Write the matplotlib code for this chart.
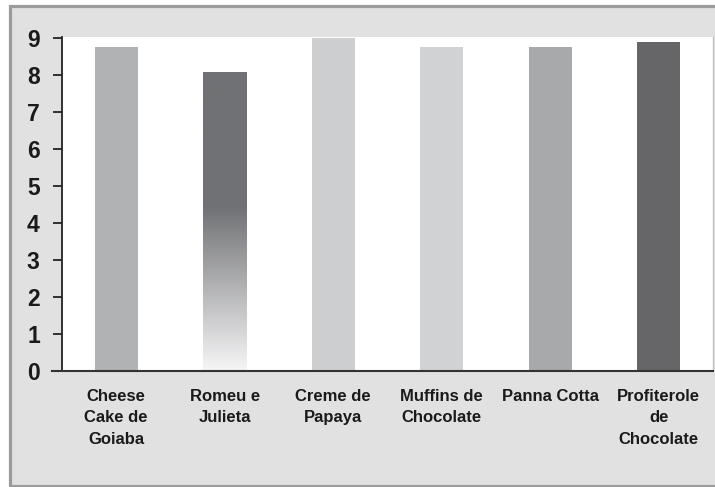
"""
Dessert ratings bar chart (grey textured frame, one gradient bar).
"""

import numpy as np
import matplotlib.pyplot as plt
from matplotlib.colors import LinearSegmentedColormap
from matplotlib.patches import Rectangle

# Data
desserts = [
    "Cheese\nCake de\nGoiaba",
    "Romeu e\nJulieta",
    "Creme de\nPapaya",
    "Muffins de\nChocolate",
    "Panna Cotta",
    "Profiterole\nde\nChocolate",
]
scores = [8.76, 8.1, 9.0, 8.76, 8.76, 8.9]
bar_colors = ["#b1b2b4", None, "#cdcecf", "#d1d2d4", "#a8a9ab", "#666668"]
gradient_idx = 1  # Romeu e Julieta is drawn with a vertical fade
yticks = list(range(0, 10))

FONT = ["Liberation Sans Narrow", "Liberation Sans", "DejaVu Sans"]
plt.rcParams["font.family"] = FONT


def main():
    fig = plt.figure(figsize=(7.15, 4.87), dpi=100, facecolor="white")

    # Outer grey frame with light background (behind the axes)
    frame = Rectangle((9.5 / 715, 1.5 / 487), 1.0, 1 - 7 / 487,
                      transform=fig.transFigure, facecolor="#e1e1e2",
                      edgecolor="#9b9b9d", linewidth=2.3, zorder=-5)
    fig.add_artist(frame)

    ax = fig.add_axes([62 / 715, 1 - 371 / 487, (713 - 62) / 715, (371 - 37.3) / 487])
    ax.set_zorder(1)
    ax.set_facecolor("white")

    x = np.arange(len(desserts))
    bars = ax.bar(x, scores, width=0.4, zorder=2)
    for i, b in enumerate(bars):
        if i == gradient_idx:
            b.set_facecolor("none")
        else:
            b.set_facecolor(bar_colors[i])
        b.set_edgecolor("none")

    # Gradient bar: dark on top, fading to white at the base
    gb = bars[gradient_idx]
    h = gb.get_height()
    cmap = LinearSegmentedColormap.from_list(
        "fade", [(0.0, "#f6f6f7"), (0.55, "#707174"), (1.0, "#707174")])
    grad = np.linspace(1, 0, 256).reshape(-1, 1)
    im = ax.imshow(grad, cmap=cmap, aspect="auto", vmin=0, vmax=1,
                   extent=(gb.get_x(), gb.get_x() + gb.get_width(), 0, h),
                   zorder=2)
    im.set_clip_path(gb)

    ax.set_xlim(-0.5, len(desserts) - 0.5)
    ax.set_ylim(0, 9.03)
    ax.set_yticks(yticks)
    ax.set_yticklabels([str(t) for t in yticks], fontsize=16.5, fontweight="bold")
    ax.set_xticks(x)
    ax.set_xticklabels(desserts, fontsize=12, fontweight="bold",
                       linespacing=1.52, va="top", ha="center")

    ax.tick_params(axis="y", direction="out", length=6.5, width=1.3,
                   pad=9.5, colors="#222222", labelcolor="#1a1a1a")
    ax.tick_params(axis="x", length=0, pad=13, labelcolor="#1a1a1a")

    ax.spines["top"].set_visible(False)
    ax.spines["right"].set_color("#c4c4c6")
    ax.spines["right"].set_linewidth(1.0)
    ax.spines["left"].set_color("#222222")
    ax.spines["left"].set_linewidth(1.3)
    ax.spines["bottom"].set_color("#333333")
    ax.spines["bottom"].set_linewidth(1.5)
    ax.spines["bottom"].set_bounds(-0.5 - 0.09, len(desserts) - 0.5)

    fig.savefig("out.png", dpi=100)
    plt.close(fig)


if __name__ == "__main__":
    main()
